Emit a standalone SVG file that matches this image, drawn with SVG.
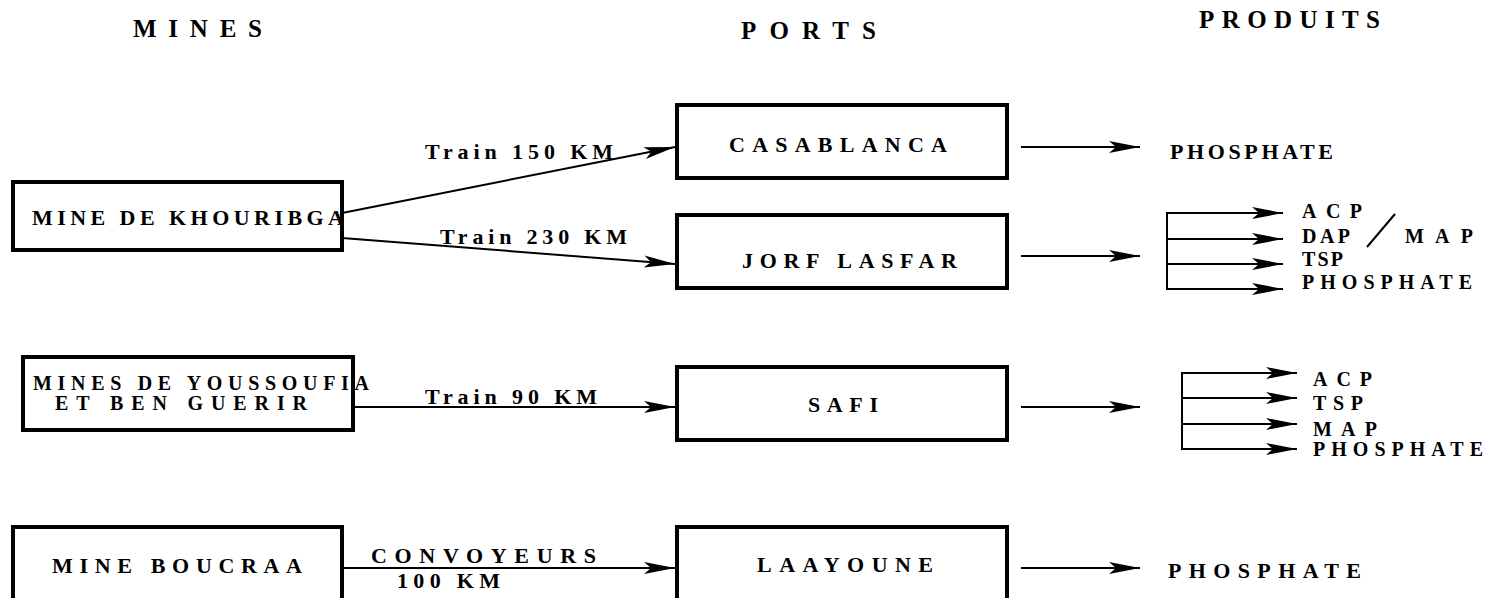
<svg xmlns="http://www.w3.org/2000/svg" width="1492" height="598" viewBox="0 0 1492 598">
<style>
  text { font-family: "Liberation Serif", serif; font-weight: bold; fill: #000; }
  .h { font-size: 25px; }
  .t { font-size: 22px; }
  .p { font-size: 20px; }
  .box { fill: #fff; stroke: #000; stroke-width: 4; }
  .c { fill: none; stroke: #000; stroke-width: 2; }
</style>
<defs>
  <marker id="ah" markerUnits="userSpaceOnUse" markerWidth="34" markerHeight="14" viewBox="-32 -7 34 14" refX="0" refY="0" orient="auto" overflow="visible">
    <path d="M0,0 L-31,-6 L-24,0 L-31,6 Z" fill="#000"/>
  </marker>
</defs>
<rect width="1492" height="598" fill="#fff"/>

<g id="headers">
  <text class="h" x="133" y="37" textLength="129" lengthAdjust="spacing">MINES</text>
  <text class="h" x="741" y="39" textLength="135" lengthAdjust="spacing">PORTS</text>
  <text class="h" x="1199" y="28" textLength="181" lengthAdjust="spacing">PRODUITS</text>
</g>

<g id="connectors">
  <line class="c" x1="342" y1="213" x2="675" y2="147" marker-end="url(#ah)"/>
  <line class="c" x1="342" y1="238" x2="675" y2="264" marker-end="url(#ah)"/>
  <line class="c" x1="353" y1="407" x2="675" y2="407" marker-end="url(#ah)"/>
  <line class="c" x1="342" y1="568" x2="675" y2="568" marker-end="url(#ah)"/>
  <line class="c" x1="1021" y1="147" x2="1140" y2="147" marker-end="url(#ah)"/>
  <line class="c" x1="1021" y1="256" x2="1140" y2="256" marker-end="url(#ah)"/>
  <line class="c" x1="1021" y1="407" x2="1140" y2="407" marker-end="url(#ah)"/>
  <line class="c" x1="1021" y1="568" x2="1140" y2="568" marker-end="url(#ah)"/>
  <line class="c" x1="1167" y1="212" x2="1167" y2="290"/>
  <line class="c" x1="1167" y1="213" x2="1283" y2="213" marker-end="url(#ah)"/>
  <line class="c" x1="1167" y1="239" x2="1283" y2="239" marker-end="url(#ah)"/>
  <line class="c" x1="1167" y1="264" x2="1283" y2="264" marker-end="url(#ah)"/>
  <line class="c" x1="1167" y1="289" x2="1283" y2="289" marker-end="url(#ah)"/>
  <line class="c" x1="1182" y1="372" x2="1182" y2="450"/>
  <line class="c" x1="1182" y1="373" x2="1297" y2="373" marker-end="url(#ah)"/>
  <line class="c" x1="1182" y1="398" x2="1297" y2="398" marker-end="url(#ah)"/>
  <line class="c" x1="1182" y1="424" x2="1297" y2="424" marker-end="url(#ah)"/>
  <line class="c" x1="1182" y1="449" x2="1297" y2="449" marker-end="url(#ah)"/>
  <text class="t" x="425" y="159" textLength="188" lengthAdjust="spacing">Train 150 KM</text>
  <text class="t" x="440" y="244" textLength="187" lengthAdjust="spacing">Train 230 KM</text>
  <text class="t" x="425" y="404" textLength="172" lengthAdjust="spacing">Train 90 KM</text>
  <text class="t" x="371" y="563" textLength="225" lengthAdjust="spacing">CONVOYEURS</text>
  <text class="t" x="397" y="588" textLength="103" lengthAdjust="spacing">100 KM</text>
</g>

<g id="mine-khouribga">
  <rect class="box" x="13" y="182" width="329" height="68"/>
  <text class="t" x="32" y="225" textLength="312" lengthAdjust="spacing">MINE DE KHOURIBGA</text>
</g>
<g id="mines-youssoufia">
  <rect class="box" x="23" y="357" width="330" height="73"/>
  <text class="p" x="33" y="390" textLength="336" lengthAdjust="spacing">MINES DE YOUSSOUFIA</text>
  <text class="p" x="55" y="410" textLength="252" lengthAdjust="spacing">ET BEN GUERIR</text>
</g>
<g id="mine-boucraa">
  <rect class="box" x="13" y="527" width="329" height="80"/>
  <text class="t" x="52" y="573" textLength="250" lengthAdjust="spacing">MINE BOUCRAA</text>
</g>

<g id="port-casablanca">
  <rect class="box" x="677" y="105" width="330" height="73"/>
  <text class="t" x="729" y="152" textLength="218" lengthAdjust="spacing">CASABLANCA</text>
</g>
<g id="port-jorf-lasfar">
  <rect class="box" x="677" y="215" width="330" height="73"/>
  <text class="t" x="742" y="268" textLength="215" lengthAdjust="spacing">JORF LASFAR</text>
</g>
<g id="port-safi">
  <rect class="box" x="677" y="367" width="330" height="73"/>
  <text class="t" x="808" y="412" textLength="70" lengthAdjust="spacing">SAFI</text>
</g>
<g id="port-laayoune">
  <rect class="box" x="677" y="527" width="330" height="80"/>
  <text class="t" x="757" y="572" textLength="176" lengthAdjust="spacing">LAAYOUNE</text>
</g>

<g id="produits-casablanca">
  <text class="t" x="1170" y="159" textLength="163" lengthAdjust="spacing">PHOSPHATE</text>
</g>
<g id="produits-jorf-lasfar">
  <text class="p" x="1302" y="218" textLength="60" lengthAdjust="spacing">ACP</text>
  <text class="p" x="1302" y="243" textLength="48" lengthAdjust="spacing">DAP</text>
  <line x1="1367" y1="247" x2="1395" y2="214" stroke="#000" stroke-width="2"/>
  <text class="p" x="1405" y="243" textLength="68" lengthAdjust="spacing">MAP</text>
  <text class="p" x="1302" y="266" textLength="41" lengthAdjust="spacing">TSP</text>
  <text class="p" x="1302" y="289" textLength="170" lengthAdjust="spacing">PHOSPHATE</text>
</g>
<g id="produits-safi">
  <text class="p" x="1313" y="386" textLength="59" lengthAdjust="spacing">ACP</text>
  <text class="p" x="1313" y="410" textLength="50" lengthAdjust="spacing">TSP</text>
  <text class="p" x="1313" y="436" textLength="64" lengthAdjust="spacing">MAP</text>
  <text class="p" x="1313" y="456" textLength="170" lengthAdjust="spacing">PHOSPHATE</text>
</g>
<g id="produits-laayoune">
  <text class="t" x="1168" y="578" textLength="193" lengthAdjust="spacing">PHOSPHATE</text>
</g>
</svg>
